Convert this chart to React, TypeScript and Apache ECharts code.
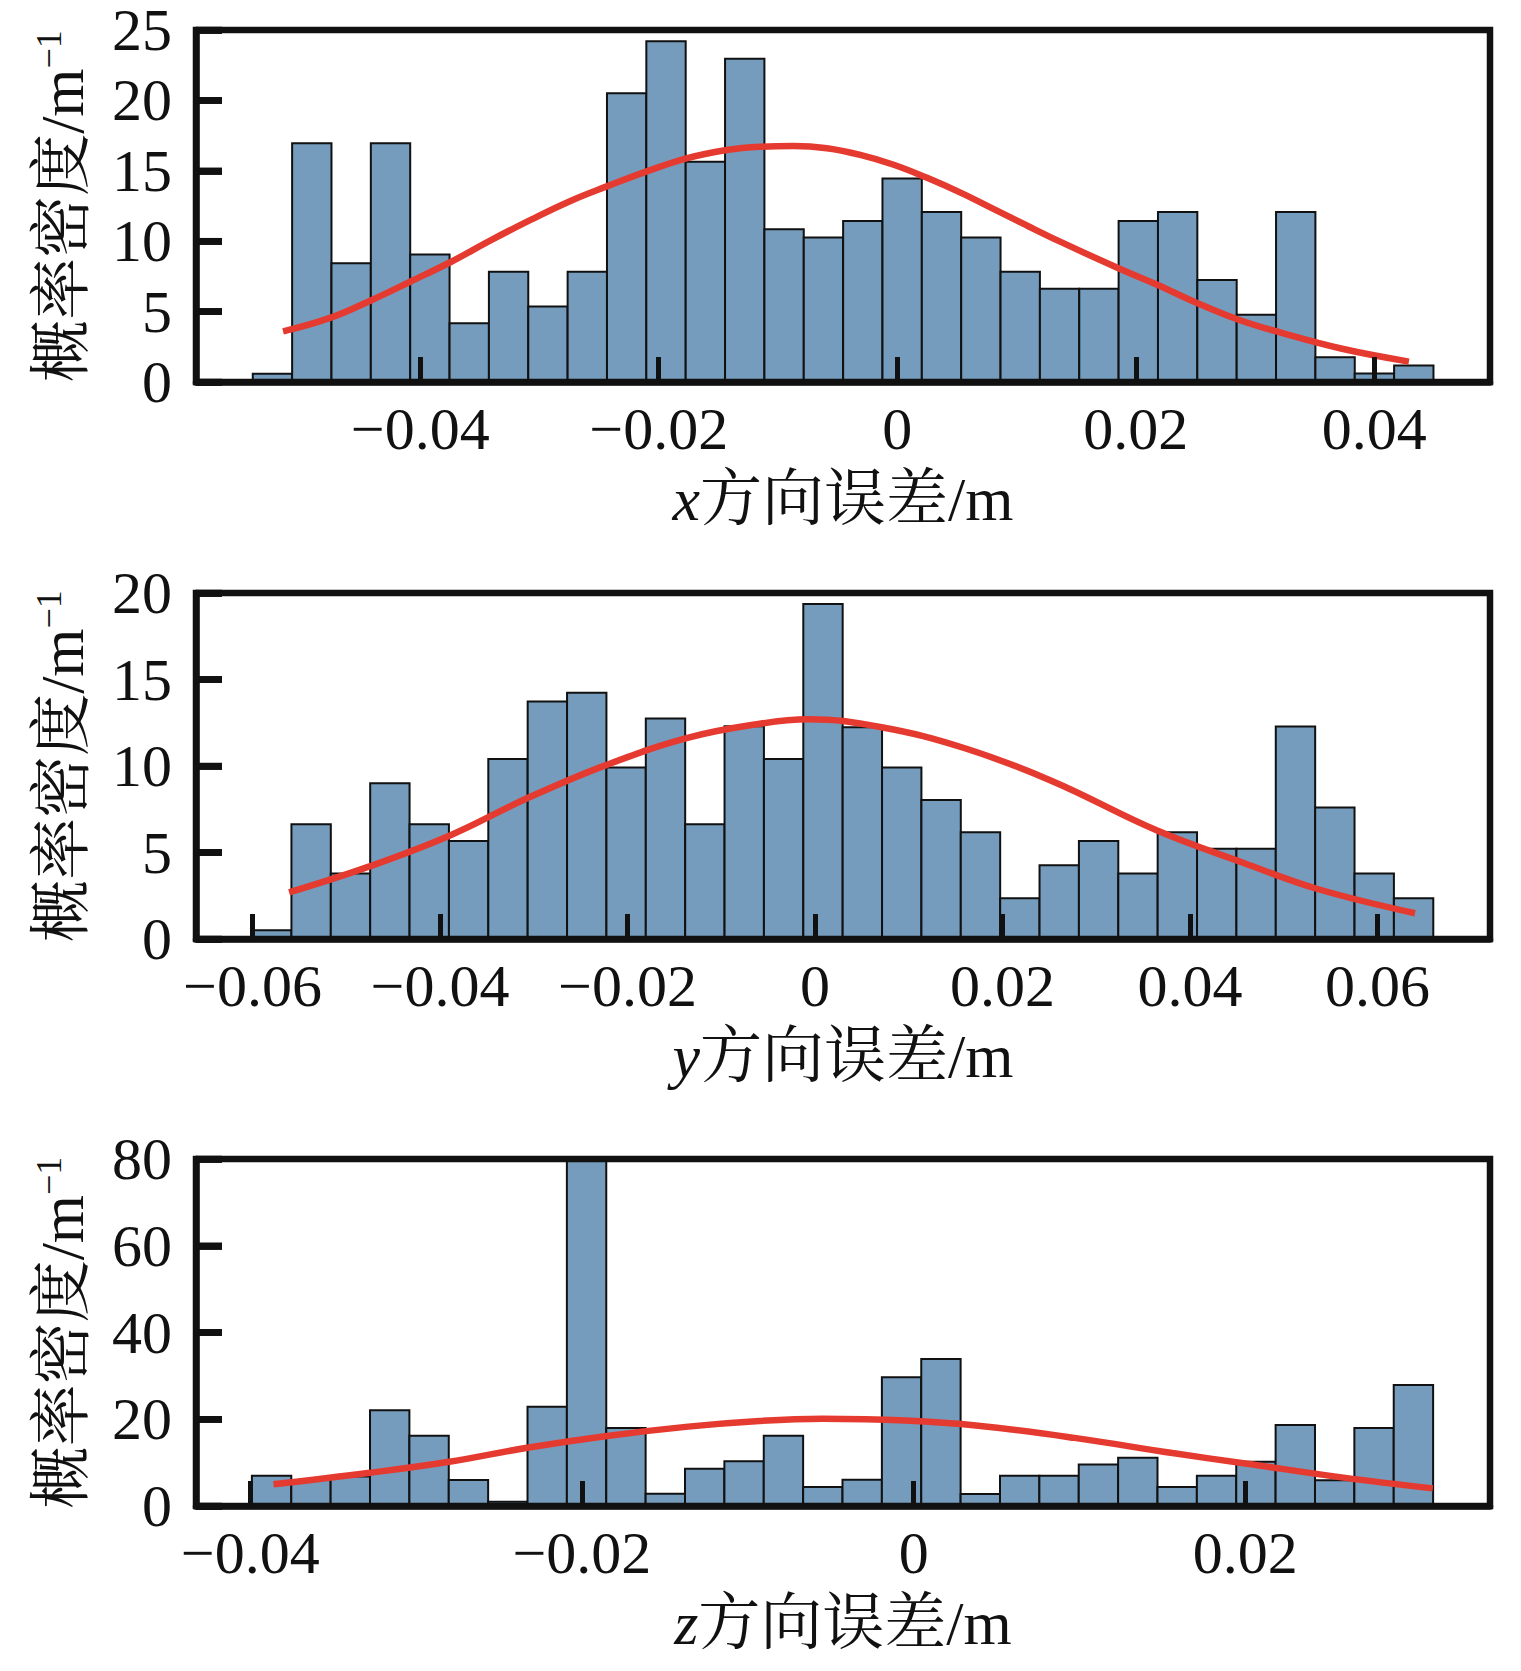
import React, { useEffect, useRef } from "react";
import * as echarts from "echarts";

// ---------- data ----------
// x-direction histogram: 30 bins
const xBinStart = -0.05404;
const xBinWidth = 0.0033;
const xDensity = [0.58, 16.95, 8.43, 16.95, 9.06, 4.18, 7.83, 5.37, 7.83, 20.5, 24.2, 15.65, 22.95, 10.84, 10.26, 11.44, 14.45, 12.07, 10.26, 7.83, 6.62, 6.62, 11.44, 12.07, 7.25, 4.77, 12.07, 1.76, 0.6, 1.18];
const xCurveX = [-0.0515, -0.0475, -0.0441, -0.0408, -0.0374, -0.0341, -0.0307, -0.0274, -0.0243, -0.021, -0.0176, -0.0143, -0.0115, -0.0087, -0.0059, -0.0031, -0.0003, 0.0025, 0.0053, 0.0081, 0.0109, 0.0137, 0.0185, 0.0218, 0.0248, 0.0285, 0.0321, 0.0373, 0.0429];
const xCurveY = [3.59, 4.57, 5.81, 7.14, 8.54, 10.06, 11.53, 12.86, 13.91, 14.96, 15.9, 16.48, 16.71, 16.76, 16.6, 16.13, 15.43, 14.5, 13.45, 12.28, 11.1, 9.95, 8.1, 6.91, 5.74, 4.46, 3.52, 2.36, 1.45];
const xTicks = [-0.04, -0.02, 0, 0.02, 0.04];

// y-direction histogram
const yBinStart = -0.06005;
const yBinWidth = 0.0042;
const yDensity = [0.5, 6.63, 3.78, 9.0, 6.63, 5.67, 10.41, 13.73, 14.23, 9.91, 12.74, 6.63, 12.3, 10.41, 19.36, 12.24, 9.91, 8.04, 6.17, 2.35, 4.26, 5.67, 3.78, 6.17, 5.21, 5.21, 12.28, 7.6, 3.78, 2.35];
const yCurveX = [-0.0561, -0.0476, -0.039, -0.0306, -0.0223, -0.0135, -0.0059, -0.0007, 0.0071, 0.0159, 0.0252, 0.0365, 0.0458, 0.0536, 0.064];
const yCurveY = [2.69, 4.18, 5.97, 8.16, 10.05, 11.64, 12.44, 12.7, 12.24, 11.04, 9.15, 6.27, 4.38, 2.89, 1.49];
const yTicks = [-0.06, -0.04, -0.02, 0, 0.02, 0.04, 0.06];

// z-direction histogram
const zBinStart = -0.0399;
const zBinWidth = 0.002374;
const zDensity = [7.0, 6.0, 6.8, 22.1, 16.2, 6.0, 1.0, 22.9, 80, 18.0, 2.8, 8.6, 10.3, 16.2, 4.37, 6.04, 29.7, 33.9, 2.78, 7.0, 7.0, 9.54, 11.13, 4.37, 7.0, 10.18, 18.69, 5.96, 17.97, 27.9];
const zCurveX = [-0.0386, -0.0329, -0.028, -0.0232, -0.0186, -0.0136, -0.0093, -0.0055, -0.0005, 0.0039, 0.0097, 0.0156, 0.02, 0.0258, 0.0313];
const zCurveY = [5.0, 7.6, 10.2, 13.5, 16.1, 18.3, 19.6, 20.1, 19.7, 18.5, 15.7, 12.2, 9.8, 6.6, 4.06];
const zTicks = [-0.04, -0.02, 0, 0.02];

const axisNames = ["x", "y", "z"];
const yAxisMax = [25, 20, 80];
const yAxisInterval = [5, 5, 20];
const yTickValues = [
  [0, 5, 10, 15, 20, 25],
  [0, 5, 10, 15, 20],
  [0, 20, 40, 60, 80],
];
const xAxisMin = [-0.0588, -0.06603, -0.04327];
const xAxisMax = [0.0497, 0.072, 0.03475];

// ---------- styles ----------
const FONT = "'Liberation Serif', 'Times New Roman', 'Noto Serif CJK SC', 'Noto Sans CJK SC', serif";
const INK = "#111111";
const BAR_FILL = "#759cbd";
const CURVE = "#e53a30";
const gridTop = [25, 593, 1159];
const gridHeight = [357, 346, 347];
const Y_TICK_LEN = 26;
const Y_TICK_W = 6.5;

const panels = [
  { start: xBinStart, width: xBinWidth, dens: xDensity, cx: xCurveX, cy: xCurveY, ticks: xTicks },
  { start: yBinStart, width: yBinWidth, dens: yDensity, cx: yCurveX, cy: yCurveY, ticks: yTicks },
  { start: zBinStart, width: zBinWidth, dens: zDensity, cx: zCurveX, cy: zCurveY, ticks: zTicks },
];

const fmtTick = (v: number) => (Math.abs(v) < 1e-12 ? "0" : v.toFixed(2).replace("-", "\u2212"));

function buildOption() {
  const grid = panels.map((_, i) => ({
    left: 196,
    width: 1294,
    top: gridTop[i],
    height: gridHeight[i],
    show: true,
    borderColor: INK,
    borderWidth: 6.5,
    backgroundColor: "transparent",
    z: 10,
  }));
  const xAxis = panels.map((p, i) => ({
    type: "value",
    gridIndex: i,
    min: xAxisMin[i],
    max: xAxisMax[i],
    z: 12,
    axisLine: { show: true, onZero: false, lineStyle: { color: INK, width: 6.5 } },
    splitLine: { show: false },
    axisTick: {
      show: true,
      inside: true,
      length: 25,
      customValues: p.ticks,
      lineStyle: { color: INK, width: 5 },
    },
    axisLabel: {
      customValues: p.ticks,
      formatter: (v: number) => fmtTick(v),
      fontSize: 60,
      fontFamily: FONT,
      color: INK,
      margin: 17,
    },
    name: `{i|${axisNames[i]}}方向误差/m`,
    nameLocation: "middle",
    nameGap: 86,
    nameTextStyle: {
      fontSize: 62,
      fontFamily: FONT,
      color: INK,
      rich: {
        i: { fontStyle: "italic", fontSize: 62, fontFamily: FONT, color: INK },
      },
    },
  }));
  const yAxis: any[] = panels.map((_, i) => ({
    type: "value",
    gridIndex: i,
    position: "left",
    min: 0,
    max: yAxisMax[i],
    interval: yAxisInterval[i],
    z: 12,
    axisLine: { show: true, onZero: false, lineStyle: { color: INK, width: 6.5 } },
    splitLine: { show: false },
    axisTick: { show: true, inside: true, length: Y_TICK_LEN, lineStyle: { color: INK, width: Y_TICK_W } },
    axisLabel: { fontSize: 60, lineHeight: 46, fontFamily: FONT, color: INK, margin: 24 },
    name: "概率密度/m{s|\u22121}",
    nameLocation: "middle",
    nameRotate: 90,
    nameGap: 103,
    nameTextStyle: {
      fontSize: 62,
      fontFamily: FONT,
      color: INK,
      rich: {
        s: { fontSize: 36, fontFamily: FONT, color: INK, verticalAlign: "top" },
      },
    },
  }));
  // tick-only companion axes on the same grids
  panels.forEach((_, i) => {
    yAxis.push({
      type: "value",
      gridIndex: i,
      position: "left",
      min: 0,
      max: yAxisMax[i],
      interval: yAxisInterval[i],
      z: 14,
      axisLine: { show: false, onZero: false },
      splitLine: { show: false },
      axisLabel: { show: false },
      axisTick: { show: true, inside: true, length: Y_TICK_LEN, lineStyle: { color: INK, width: Y_TICK_W } },
    });
  });
  const series: any[] = [];
  panels.forEach((p, i) => {
    series.push({
      type: "custom",
      xAxisIndex: i,
      yAxisIndex: i,
      z: 2,
      encode: { x: [0, 1], y: 2 },
      data: p.dens.map((v, k) => [p.start + k * p.width, p.start + (k + 1) * p.width, v]),
      renderItem: (params: any, api: any) => {
        const a = api.coord([api.value(0), api.value(2)]);
        const b = api.coord([api.value(1), 0]);
        const rect = {
          type: "rect",
          shape: { x: a[0], y: a[1], width: b[0] - a[0], height: b[1] - a[1] },
          style: { fill: BAR_FILL, stroke: INK, lineWidth: 2 },
        };
        if (params.dataIndex !== 0) return rect;
        const ticks = yTickValues[i].map((v) => {
          const c = api.coord([xAxisMin[i], v]);
          return {
            type: "line",
            shape: { x1: c[0], y1: c[1], x2: c[0] + Y_TICK_LEN, y2: c[1] },
            style: { stroke: INK, lineWidth: Y_TICK_W },
          };
        });
        return { type: "group", children: [rect, ...ticks] };
      },
    });
    series.push({
      type: "line",
      xAxisIndex: i,
      yAxisIndex: i,
      z: 5,
      smooth: 0.4,
      symbol: "none",
      lineStyle: { color: CURVE, width: 6.5 },
      data: p.cx.map((x, k) => [x, p.cy[k]]),
    });
  });
  return {
    animation: false,
    backgroundColor: "#ffffff",
    textStyle: { fontFamily: FONT },
    grid,
    xAxis,
    yAxis,
    series,
  };
}

export default function App() {
  const ref = useRef<HTMLDivElement>(null);
  useEffect(() => {
    if (!ref.current) return;
    const chart = echarts.init(ref.current, undefined, { renderer: "svg" });
    chart.setOption(buildOption() as any);
    return () => chart.dispose();
  }, []);
  return (
    <div
      ref={ref}
      style={{ position: "absolute", left: 0, top: 0, width: 1521, height: 1671, background: "#fff" }}
    />
  );
}
